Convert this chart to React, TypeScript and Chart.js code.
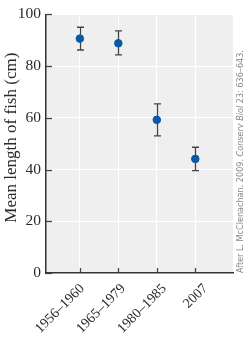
import React, { useEffect, useRef } from "react";
import { Chart, registerables } from "chart.js";

Chart.register(...registerables);

const categories = ["1956–1960", "1965–1979", "1980–1985", "2007"];
const means = [90.6, 88.8, 59.2, 44.1];
const upper = [95.0, 93.6, 65.4, 48.6];
const lower = [86.2, 84.3, 53.0, 39.6];
const yTicks = [0, 20, 40, 60, 80, 100];
const yTitle = "Mean length of fish (cm)";
const creditParts = [
  { text: "After L. McClenachan. 2009. ", italic: false },
  { text: "Conserv Biol", italic: true },
  { text: " 23: 636–643.", italic: false },
];

const SERIF = "'Liberation Serif', 'DejaVu Serif', serif";
const NARROW = "'Liberation Sans Narrow', 'DejaVu Sans Condensed', 'DejaVu Sans', sans-serif";
const TEXT = "#2a2a2a";

const decorPlugin = {
  id: "decor",
  beforeDraw(chart: any) {
    const { ctx, chartArea } = chart;
    ctx.save();
    ctx.fillStyle = "#efefef";
    ctx.fillRect(chartArea.left, chartArea.top, chartArea.right - chartArea.left, chartArea.bottom - chartArea.top);
    ctx.restore();
  },
  afterDraw(chart: any) {
    const { ctx, chartArea, scales } = chart;
    const xs = scales.x;
    const ys = scales.y;
    ctx.save();
    ctx.strokeStyle = "#444";
    ctx.lineWidth = 1.3;
    yTicks.forEach((t) => {
      const py = Math.round(ys.getPixelForValue(t)) + 0.5;
      ctx.beginPath();
      ctx.moveTo(chartArea.left, py);
      ctx.lineTo(chartArea.left + 6, py);
      ctx.stroke();
    });
    categories.forEach((_, i) => {
      const px = Math.round(xs.getPixelForValue(i + 1)) + 0.5;
      ctx.beginPath();
      ctx.moveTo(px, chartArea.bottom);
      ctx.lineTo(px, chartArea.bottom - 5);
      ctx.stroke();
    });
    // rotated category labels
    ctx.fillStyle = TEXT;
    ctx.font = `14px ${SERIF}`;
    ctx.textAlign = "right";
    ctx.textBaseline = "alphabetic";
    categories.forEach((c, i) => {
      const px = xs.getPixelForValue(i + 1);
      ctx.save();
      ctx.translate(px + 5 + 2.6 * i, chartArea.bottom + 16);
      ctx.rotate(-Math.PI / 4);
      ctx.fillText(c, 0, 0);
      ctx.restore();
    });
    // y-axis title
    ctx.save();
    ctx.font = `17px ${SERIF}`;
    ctx.textAlign = "center";
    ctx.textBaseline = "middle";
    ctx.translate(12, (chartArea.top + chartArea.bottom) / 2 - 6);
    ctx.rotate(-Math.PI / 2);
    ctx.fillText(yTitle, 0, 0);
    ctx.restore();
    // credit line
    ctx.fillStyle = "#888";
    ctx.translate(241, chartArea.bottom);
    ctx.rotate(-Math.PI / 2);
    ctx.textBaseline = "middle";
    ctx.textAlign = "left";
    let x = 0;
    creditParts.forEach((p) => {
      ctx.font = `${p.italic ? "italic " : ""}9px ${NARROW}`;
      ctx.fillText(p.text, x, 0);
      x += ctx.measureText(p.text).width;
    });
    ctx.restore();
  },
};

const errorBarPlugin = {
  id: "errbars",
  beforeDatasetsDraw(chart: any) {
    const { ctx, scales } = chart;
    const xs = scales.x;
    const ys = scales.y;
    ctx.save();
    ctx.strokeStyle = "#444";
    ctx.lineWidth = 1.3;
    categories.forEach((_, i) => {
      const px = Math.round(xs.getPixelForValue(i + 1)) + 0.5;
      const pt = ys.getPixelForValue(upper[i]);
      const pb = ys.getPixelForValue(lower[i]);
      ctx.beginPath();
      ctx.moveTo(px, pt);
      ctx.lineTo(px, pb);
      ctx.moveTo(px - 3.5, pt);
      ctx.lineTo(px + 3.5, pt);
      ctx.moveTo(px - 3.5, pb);
      ctx.lineTo(px + 3.5, pb);
      ctx.stroke();
    });
    ctx.restore();
  },
};

export default function App() {
  const ref = useRef<HTMLCanvasElement>(null);
  useEffect(() => {
    if (!ref.current) return;
    const chart = new Chart(ref.current, {
      type: "scatter",
      data: {
        datasets: [
          {
            data: categories.map((_, i) => ({ x: i + 1, y: means[i] })),
            backgroundColor: "#0d58a6",
            borderColor: "#0d58a6",
            pointRadius: 3.8,
            pointHoverRadius: 3.8,
          },
        ],
      },
      options: {
        animation: false,
        responsive: false,
        devicePixelRatio: 1,
        events: [],
        layout: { padding: { top: 9, right: 17, left: 0, bottom: 0 } },
        plugins: { legend: { display: false }, tooltip: { enabled: false } },
        scales: {
          x: {
            type: "linear",
            min: 0.12,
            max: 4.98,
            afterBuildTicks: (scale: any) => {
              scale.ticks = categories.map((_, i) => ({ value: i + 1 }));
            },
            afterFit: (scale: any) => {
              scale.height = 69;
            },
            grid: { color: "#ffffff", lineWidth: 1, drawTicks: false },
            border: { display: true, color: "#333", width: 1.5 },
            ticks: { display: false },
          },
          y: {
            min: 0,
            max: 100,
            afterBuildTicks: (scale: any) => {
              scale.ticks = yTicks.map((v) => ({ value: v }));
            },
            afterFit: (scale: any) => {
              scale.width = 46;
            },
            grid: { color: "#ffffff", lineWidth: 1, drawTicks: false },
            border: { display: true, color: "#333", width: 1.5 },
            ticks: {
              padding: 5,
              color: TEXT,
              font: { family: SERIF, size: 15.5 },
            },
          },
        },
      },
      plugins: [decorPlugin, errorBarPlugin],
    } as any);
    return () => chart.destroy();
  }, []);
  return (
    <div style={{ position: "fixed", left: 0, top: 0, width: 250, height: 342, background: "#fff" }}>
      <canvas ref={ref} width={250} height={342} />
    </div>
  );
}
